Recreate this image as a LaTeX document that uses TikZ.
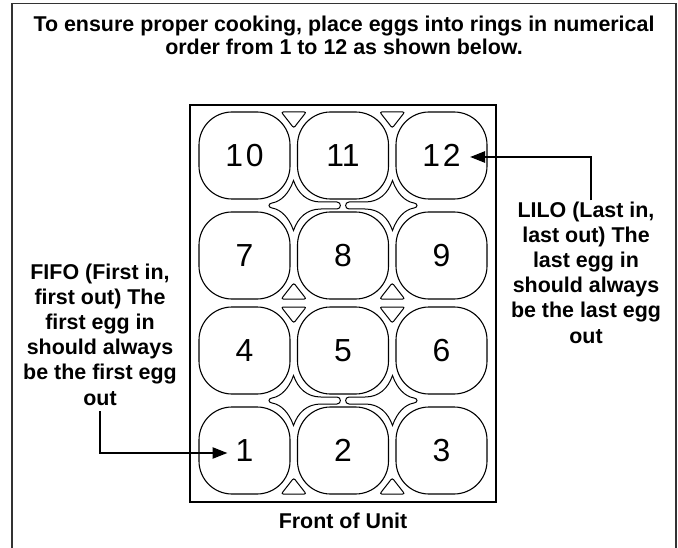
\documentclass[tikz,border=0pt]{standalone}
\usepackage{fontspec}
\setmainfont{Liberation Sans}
\usetikzlibrary{arrows.meta,positioning}

\begin{document}
\begin{tikzpicture}[
    x=1bp, y=-1bp,
    ring/.style={rectangle, draw, line width=1.1bp, rounded corners=33bp,
                 minimum width=91bp, minimum height=87bp, inner sep=0pt,
                 font=\fontsize{32}{32}\selectfont},
    tray/.style={draw, line width=2.6bp, minimum width=306bp,
                 minimum height=397bp, inner sep=0pt},
    note/.style={align=center, inner sep=0pt,
                 font=\bfseries\fontsize{21.5}{25.3}\selectfont},
    tri/.style={draw, line width=1bp, rounded corners=2bp},
    conn/.style={-{Triangle[length=15bp, width=11bp]}, line width=2.4bp},
    slot/.pic={
      \draw[line width=1bp] (-71,-2.5) .. controls (-62,-4) and (-54,-12) .. (-49.5,-25)
        .. controls (-45,-12) and (-36,-3.5) .. (-22,-3.5) -- (-6,-3.5)
        .. controls (-1.5,-3.5) and (-1.5,3.5) .. (-6,3.5) -- (-22,3.5)
        .. controls (-36,3.5) and (-45,12) .. (-49.5,25)
        .. controls (-54,12) and (-62,4) .. (-71,2.5)
        .. controls (-75,2) and (-75,-2) .. cycle;
    }
  ]
    \useasboundingbox (0,0) rectangle (678,548);
    \draw[line width=1.4bp, black!80] (12,548) -- (12,3.5) -- (676,3.5) -- (676,548);

    \node[note, anchor=north, font=\bfseries\fontsize{21.5}{22.5}\selectfont] (title) at (344,16)
      {To ensure proper cooking, place eggs into rings in numerical\\order from 1 to 12 as shown below.};

    \node[tray] (tray) at (343,303.5) {};

    \node[ring] (r10) at (244.5,155.5) {1\kern3bp 0};
    \node[ring] (r11) at (343,155.5) {11};
    \node[ring] (r12) at (441.5,155.5) {1\kern3bp 2};
    \node[ring] (r7) at (244.5,255.5) {7};
    \node[ring] (r8) at (343,255.5) {8};
    \node[ring] (r9) at (441.5,255.5) {9};
    \node[ring] (r4) at (244.5,350.5) {4};
    \node[ring] (r5) at (343,350.5) {5};
    \node[ring] (r6) at (441.5,350.5) {6};
    \node[ring] (r1) at (244.5,450.5) {1};
    \node[ring] (r2) at (343,450.5) {2};
    \node[ring] (r3) at (441.5,450.5) {3};

    % gaps between the rings
    \draw[tri] (281.25,112) -- (306.25,112) -- (293.75,128) -- cycle;
    \draw[tri] (379.75,112) -- (404.75,112) -- (392.25,128) -- cycle;
    \draw[tri] (281.25,299) -- (306.25,299) -- (293.75,283) -- cycle;
    \draw[tri] (379.75,299) -- (404.75,299) -- (392.25,283) -- cycle;
    \draw[tri] (281.25,307) -- (306.25,307) -- (293.75,323) -- cycle;
    \draw[tri] (379.75,307) -- (404.75,307) -- (392.25,323) -- cycle;
    \draw[tri] (281.25,494) -- (306.25,494) -- (293.75,478) -- cycle;
    \draw[tri] (379.75,494) -- (404.75,494) -- (392.25,478) -- cycle;

    \pic at (343,205.5) {slot};
    \pic[xscale=-1] at (343,205.5) {slot};
    \pic at (343,400.5) {slot};
    \pic[xscale=-1] at (343,400.5) {slot};

    \node[note, below=9.4bp of tray] (front) {Front of Unit};

    \node[note, anchor=north] (fifo) at (100,263.3)
      {FIFO (First in,\\first out) The\\first egg in\\should always\\be the first egg\\out};
    \node[note, anchor=north] (lilo) at (586,201.3)
      {LILO (Last in,\\last out) The\\last egg in\\should always\\be the last egg\\out};

    \draw[conn, shorten <=6bp] (fifo.south) |- ([xshift=-17bp, yshift=-2.5bp]r1.center);
    \draw[conn, shorten <=1bp] ([xshift=5bp]lilo.north) |- ([xshift=28.5bp, yshift=-1.5bp]r12.center);
\end{tikzpicture}
\end{document}
